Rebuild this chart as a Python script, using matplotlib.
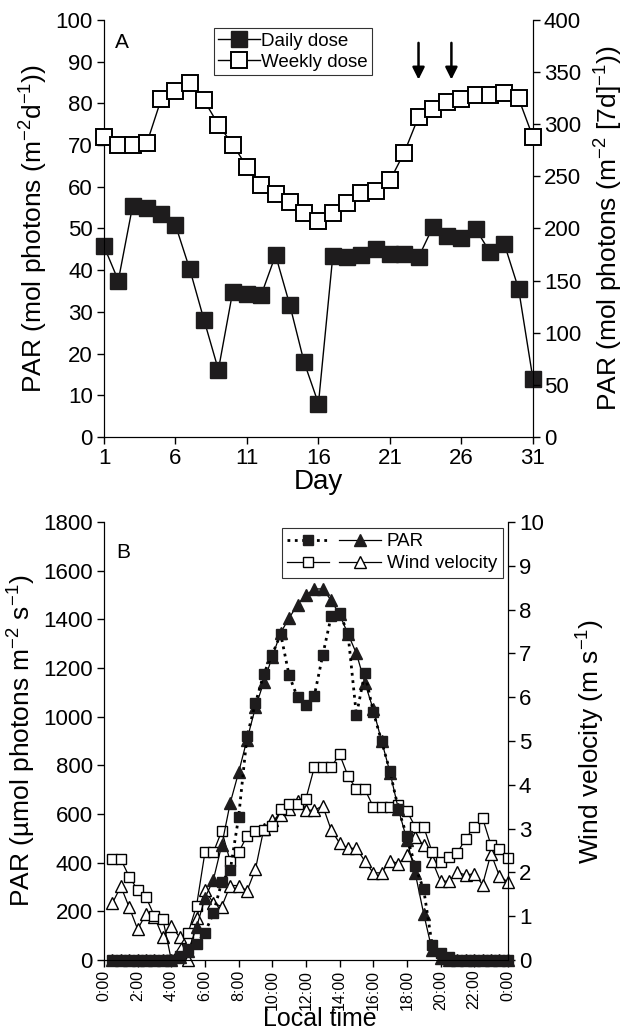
import numpy as np
import matplotlib
matplotlib.use('Agg')
import matplotlib.pyplot as plt
from matplotlib.lines import Line2D
from matplotlib.legend_handler import HandlerTuple

plt.rcParams['font.family'] = ['Liberation Sans', 'DejaVu Sans']
plt.rcParams['mathtext.fontset'] = 'custom'
plt.rcParams['mathtext.rm'] = 'Liberation Sans'
plt.rcParams['mathtext.it'] = 'Liberation Sans:italic'
plt.rcParams['mathtext.bf'] = 'Liberation Sans:bold'

# ---------------- Panel A data ----------------
days = [1, 2, 3, 4, 5, 6, 7, 8, 9, 10, 11, 12, 13, 14, 15, 16, 17, 18, 19, 20,
        21, 22, 23, 24, 25, 26, 27, 28, 29, 30, 31]
daily_dose = [45.7, 37.5, 55.4, 54.8, 53.5, 50.8, 40.2, 28.0, 16.1, 34.8, 34.4,
              34.1, 43.6, 31.6, 17.9, 8.0, 43.3, 43.1, 43.7, 45.1, 43.9, 43.9,
              43.1, 50.3, 48.3, 47.7, 49.9, 44.3, 46.3, 35.5, 14.0]
weekly_dose = [287.6, 280.4, 280.4, 282.0, 324.0, 331.6, 339.6, 322.8, 299.6,
               280.4, 259.2, 241.2, 233.2, 225.2, 215.2, 207.2, 215.2, 224.0,
               234.0, 235.6, 246.0, 272.8, 307.0, 315.0, 321.5, 324.0, 328.0,
               328.0, 329.5, 324.7, 287.8]
arrow_days = [23.0, 25.3]
day_ticks = [1, 6, 11, 16, 21, 26, 31]

# ---------------- Panel B data ----------------
hours = [0.5, 1.0, 1.5, 2.0, 2.5, 3.0, 3.5, 4.0, 4.5, 5.0, 5.5, 6.0, 6.5, 7.0,
         7.5, 8.0, 8.5, 9.0, 9.5, 10.0, 10.5, 11.0, 11.5, 12.0, 12.5, 13.0,
         13.5, 14.0, 14.5, 15.0, 15.5, 16.0, 16.5, 17.0, 17.5, 18.0, 18.5,
         19.0, 19.5, 20.0, 20.5, 21.0, 21.5, 22.0, 22.5, 23.0, 23.5, 24.0]
par_squares = [0, 0, 0, 0, 0, 0, 0, 0, 15, 44, 66, 112, 193, 321, 368, 587,
               920, 1055, 1177, 1255, 1340, 1170, 1079, 1050, 1086, 1253, 1412,
               1426, 1342, 1006, 1180, 1021, 898, 775, 619, 509, 385, 290, 63,
               29, 12, 0, 0, 0, 0, 0, 0, 0]
par_triangles = [0, 0, 0, 0, 0, 0, 0, 0, 12, 36, 135, 255, 330, 473, 645, 771,
                 906, 1038, 1143, 1246, 1345, 1405, 1460, 1500, 1525, 1525,
                 1478, 1420, 1340, 1260, 1140, 1030, 900, 770, 619, 494, 356,
                 190, 40, 10, 0, 0, 0, 0, 0, 0, 0, 0]
wind_squares = [2.3, 2.3, 1.9, 1.6, 1.43, 1.0, 0.93, 0.0, np.nan, 0.62, 1.24,
                2.46, 2.46, 2.95, 2.25, 2.46, 2.83, 2.94, 2.96, 3.05, 3.45,
                3.56, 3.56, 3.68, 4.4, 4.4, 4.4, 4.7, 4.2, 3.9, 3.9, 3.5, 3.5,
                3.5, 3.54, 3.4, 3.04, 3.04, 2.47, 2.23, 2.35, 2.45, 2.77, 3.04,
                3.24, 2.62, 2.53, 2.33]
wind_triangles = [1.3, 1.68, 1.2, 0.7, 1.06, 0.98, 0.52, 0.77, 0.52, 0.0, 0.97,
                  1.6, 1.3, 1.22, 1.7, 1.7, 1.58, 2.07, 3.0, 3.2, 3.3, 3.44,
                  3.62, 3.42, 3.42, 3.52, 2.97, 2.67, 2.55, 2.55, 2.26, 1.99,
                  1.99, 2.27, 2.2, 2.4, 2.8, 2.62, 2.27, 1.8, 1.8, 2.0, 1.94,
                  1.97, 1.72, 2.43, 1.92, 1.78]
time_ticks = [0, 2, 4, 6, 8, 10, 12, 14, 16, 18, 20, 22, 24]
time_labels = ['0:00', '2:00', '4:00', '6:00', '8:00', '10:00', '12:00',
               '14:00', '16:00', '18:00', '20:00', '22:00', '0:00']

FILL = '#1e1c1d'
TICK_FS = 16
YLAB_FS = 19
XLAB_FS = 20
LEG_FS = 13.5

fig = plt.figure(figsize=(6.27, 10.33), dpi=100)

# ================= Panel A =================
axA = fig.add_axes([0.1659, 0.577, 0.684, 0.4037])
axA2 = axA.twinx()

l1, = axA.plot(days, daily_dose, '-', color='k', lw=1.0, marker='s', ms=11,
               mfc=FILL, mec=FILL, clip_on=False, zorder=3)
l2, = axA2.plot(days, weekly_dose, '-', color='k', lw=1.0, marker='s', ms=11,
                mfc='white', mec='k', mew=1.4, clip_on=False, zorder=3)

axA.set_xlim(1, 31)
axA.set_ylim(0, 100)
axA2.set_ylim(0, 400)
axA.set_xticks(day_ticks)
axA.set_yticks(np.arange(0, 101, 10))
axA2.set_yticks(np.arange(0, 401, 50))
for a in (axA, axA2):
    a.spines['top'].set_visible(False)
    a.tick_params(direction='out', length=5, width=1, labelsize=TICK_FS, pad=3)
axA.set_xlabel('Day', fontsize=XLAB_FS, labelpad=0)
axA.set_ylabel(r'PAR (mol photons (m$^{-2}$d$^{-1}$))', fontsize=YLAB_FS, labelpad=4)
axA2.set_ylabel(r'PAR (mol photons (m$^{-2}$ [7d]$^{-1}$))', fontsize=YLAB_FS, labelpad=8)
axA.text(0.026, 0.945, 'A', transform=axA.transAxes, fontsize=15, va='center', ha='left')

for d in arrow_days:
    axA.annotate('', xy=(d, 85.7), xytext=(d, 94.5),
                 arrowprops=dict(arrowstyle='-|>', color='k', lw=1.8,
                                 mutation_scale=18, shrinkA=0, shrinkB=0))

legA = axA2.legend([l1, l2], ['Daily dose', 'Weekly dose'], loc='upper left',
                   bbox_to_anchor=(0.256, 0.981), borderaxespad=0,
                   frameon=True, fancybox=False, edgecolor='k',
                   fontsize=LEG_FS, handlelength=2.2, handletextpad=0.05,
                   borderpad=0.25, labelspacing=0.2, numpoints=1)
legA.get_frame().set_linewidth(0.8)

# ================= Panel B =================
B_bottom = 1 - 960 / 1033
B_top = 1 - 522 / 1033
axB = fig.add_axes([0.1659, B_bottom, 0.644, B_top - B_bottom])
axB2 = axB.twinx()
axB.set_zorder(axB2.get_zorder() + 1)
axB.patch.set_visible(False)

h = np.array(hours)
ws = np.array(wind_squares)
wt = np.array(wind_triangles)
m_ws = ~np.isnan(ws)
m_wt = ~np.isnan(wt)

axB2.plot(h[m_wt], wt[m_wt], '-', color='k', lw=0.9, marker='^', ms=8.5,
          mfc='white', mec='k', mew=1.0, clip_on=False)
axB2.plot(h[m_ws], ws[m_ws], '-', color='k', lw=0.9, marker='s', ms=7.5,
          mfc='white', mec='k', mew=1.0, clip_on=False)
axB.plot(hours, par_triangles, '-', color='k', lw=0.9, marker='^', ms=8.5,
         mfc=FILL, mec=FILL, clip_on=False)
axB.plot(hours, par_squares, ':', color='k', lw=2.0, marker='s', ms=7.5,
         mfc=FILL, mec=FILL, clip_on=False)

axB.set_xlim(0, 24)
axB.set_ylim(0, 1800)
axB2.set_ylim(0, 10)
axB.set_xticks(time_ticks)
axB.set_xticklabels(time_labels, rotation=90)
axB.set_yticks(np.arange(0, 1801, 200))
axB2.set_yticks(np.arange(0, 11, 1))
for a in (axB, axB2):
    a.spines['top'].set_visible(False)
    a.tick_params(direction='out', length=5, width=1, labelsize=TICK_FS, pad=3)
axB.tick_params(axis='x', labelsize=11.5, pad=2)
axB.set_ylabel(r'PAR (µmol photons m$^{-2}$ s$^{-1}$)', fontsize=YLAB_FS, labelpad=4)
axB2.set_ylabel(r'Wind velocity (m s$^{-1}$)', fontsize=YLAB_FS, labelpad=22)
axB.text(0.03, 0.93, 'B', transform=axB.transAxes, fontsize=15, va='center', ha='left')

h_par = (Line2D([], [], ls=':', lw=2.0, color='k', marker='s', ms=7.5, mfc=FILL, mec=FILL),
         Line2D([], [], ls='-', lw=0.9, color='k', marker='^', ms=8.5, mfc=FILL, mec=FILL))
h_wind = (Line2D([], [], ls='-', lw=0.9, color='k', marker='s', ms=7.5, mfc='white', mec='k'),
          Line2D([], [], ls='-', lw=0.9, color='k', marker='^', ms=8.5, mfc='white', mec='k'))
legB = axB.legend([h_par, h_wind], ['PAR', 'Wind velocity'], loc='upper left',
                  bbox_to_anchor=(0.44, 0.987), borderaxespad=0,
                  handler_map={tuple: HandlerTuple(ndivide=None, pad=0.5)},
                  frameon=True, fancybox=False, edgecolor='k', fontsize=LEG_FS,
                  handlelength=5.0, handletextpad=0.3, borderpad=0.3,
                  labelspacing=0.25, numpoints=1)
legB.get_frame().set_linewidth(0.8)

fig.text(320 / 627, 1.5 / 1033, 'Local time', fontsize=18,
         ha='center', va='bottom')

fig.savefig('out.png', dpi=100)
